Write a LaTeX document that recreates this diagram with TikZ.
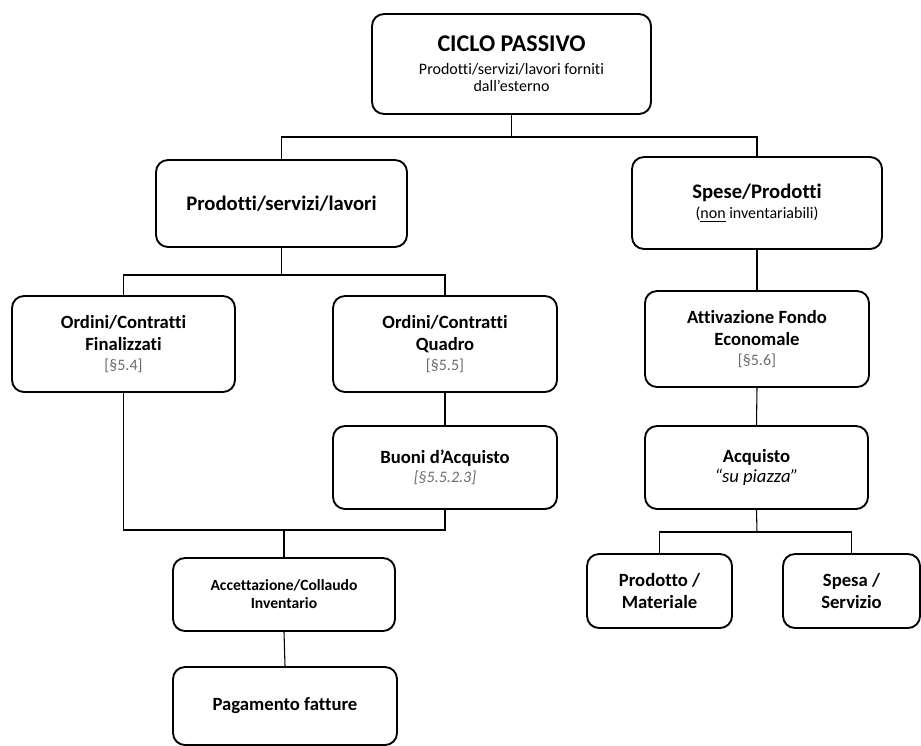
\documentclass[tikz,border=0pt]{standalone}
\usepackage{fontspec}
\setmainfont{Carlito}[Ligatures=NoCommon]
\definecolor{refgray}{gray}{0.42}
\newcommand{\fsz}[2]{\fontsize{#1}{#2}\selectfont}
\newcommand{\refline}{\fsz{12}{15}\mdseries\color{refgray}}
\tikzset{
  box/.style={draw, line width=1.4pt, rounded corners=9pt, align=center, inner sep=0pt,
    node font=\fsz{14}{16.5}\bfseries},
  wire/.style={line width=0.8pt}
}
\begin{document}
\begin{tikzpicture}[x=0.75pt,y=-0.75pt]
\useasboundingbox (0,0) rectangle (921,746);

% boxes
\node[box, minimum width=209.25pt, minimum height=75pt, node font=\fsz{12}{13}\mdseries] (top) at (511.5,64)
  {\fsz{18}{20}\bfseries CICLO PASSIVO\\[4pt]Prodotti/servizi/lavori forniti\\dall’esterno};
\node[box, minimum width=188.25pt, minimum height=65.25pt] (prod) at (281.5,203.5)
  {\fsz{15.5}{18}\bfseries Prodotti/servizi/lavori};
\node[box, minimum width=187.5pt, minimum height=69pt, node font=\fsz{12}{15}\mdseries] (spese) at (757,203)
  {\fsz{15.5}{18}\bfseries Spese/Prodotti\\(\underline{non} inventariabili)};

\node[box, minimum width=167.25pt, minimum height=72pt] (fin) at (123.5,344)
  {Ordini/Contratti\\Finalizzati\\[-1.5pt]\refline [§5.4]};
\node[box, minimum width=168pt, minimum height=72pt] (quad) at (445,344)
  {Ordini/Contratti\\Quadro\\[-1.5pt]\refline [§5.5]};
\node[box, minimum width=168pt, minimum height=62.25pt, node font=\fsz{14}{14.5}\bfseries] (buoni) at (445,467.5)
  {Buoni d’Acquisto\\\refline\itshape [§5.5.2.3]};

\node[box, minimum width=166.5pt, minimum height=54.75pt, node font=\fsz{11.7}{13.5}\bfseries] (acc) at (284,594.5)
  {Accettazione/Collaudo\\Inventario};
\node[box, minimum width=168pt, minimum height=58.5pt] (pag) at (285,706)
  {Pagamento fatture};

\node[box, minimum width=168pt, minimum height=72pt] (attiv) at (757,339)
  {Attivazione Fondo\\Economale\\[-1.5pt]\refline [§5.6]};
\node[box, minimum width=167.25pt, minimum height=62.25pt, node font=\fsz{14}{15}\bfseries] (acq) at (756.5,467.5)
  {Acquisto\\\mdseries\itshape “su piazza”};

\node[box, minimum width=108.75pt, minimum height=55.5pt] (prodm) at (659.5,591)
  {Prodotto /\\Materiale};
\node[box, minimum width=102.75pt, minimum height=55.5pt] (spesa) at (851.5,591)
  {Spesa /\\Servizio};

% junction points of the connector trees
\coordinate (b1) at (511.5,137);
\coordinate (b2) at (281.5,275);
\coordinate (b3) at (284,530);
\coordinate (b4) at (757,532);

% connectors
\draw[wire] (top.south) -- (b1);
\draw[wire] (prod.north) |- (b1) -| (spese.north);
\draw[wire] (prod.south) -- (b2);
\draw[wire] (fin.north) |- (b2) -| (quad.north);
\draw[wire] (quad.south) -- (buoni.north);
\draw[wire] (fin.south) |- (b3) -| (buoni.south);
\draw[wire] (b3) -- (acc.north);
\draw[wire] (acc.south) -- (pag.north);
\draw[wire] (spese.south) -- (attiv.north);
\draw[wire] (attiv.south) -- (acq.north);
\draw[wire] (acq.south) -- (b4);
\draw[wire] (prodm.north) |- (b4) -| (spesa.north);
\end{tikzpicture}
\end{document}
